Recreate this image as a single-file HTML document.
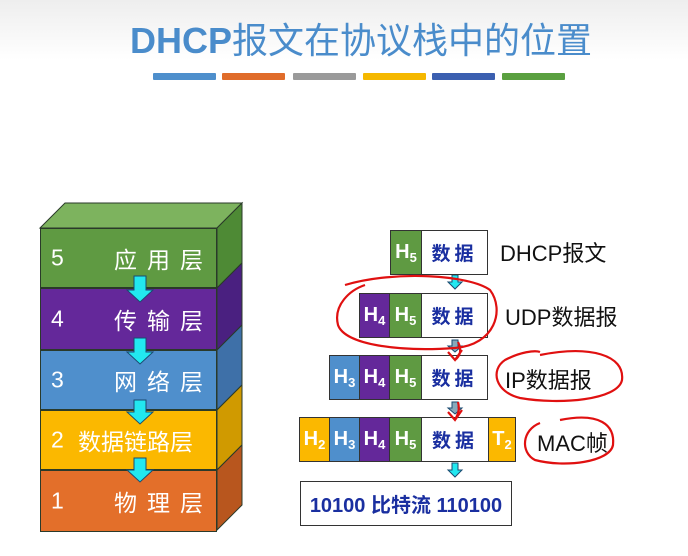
<!DOCTYPE html>
<html><head><meta charset="utf-8"><style>
body{margin:0;width:688px;height:556px;overflow:hidden;background:#fff;font-family:"Liberation Sans","Noto Sans CJK SC",sans-serif;position:relative}
.a{position:absolute}
.bar{position:absolute;top:73px;height:7px;width:63px;border-radius:1px}
.c{position:absolute;box-sizing:border-box;border:1px solid #333;color:#fff;font-size:20px;font-weight:bold;display:flex;align-items:center;justify-content:center;height:45px}
.c sub{font-size:13px;font-weight:bold;position:relative;top:5px}
.d{background:#fff;color:#1a2fa0;font-family:"Noto Sans CJK SC",sans-serif;font-size:19px;letter-spacing:4px}
.lbl{position:absolute;font-size:22px;color:#111;font-family:"Liberation Sans","Noto Sans CJK SC",sans-serif}
.L{position:absolute;left:40px;width:177px;box-sizing:border-box;border:1px solid #2a3a2a;color:#fff;font-size:23px;font-family:"Liberation Sans","Noto Sans CJK SC",sans-serif}
.L span{position:absolute;top:50%;transform:translateY(-50%)}
</style></head><body>
<div class="a" style="left:0;top:0;width:688px;height:60px;background:linear-gradient(#eee,#fff)"></div>
<div class="a" style="left:130px;top:14px;font-size:36px;color:#4a8ccb;white-space:nowrap;line-height:48px"><b>DHCP</b><span style="font-family:'Noto Sans CJK SC',sans-serif">报文在协议栈中的位置</span></div>
<div class="bar" style="left:153px;background:#4e8fcc"></div>
<div class="bar" style="left:222px;background:#e06c2a"></div>
<div class="bar" style="left:293px;background:#9a9a9a"></div>
<div class="bar" style="left:363px;background:#f5b800"></div>
<div class="bar" style="left:432px;background:#3b5fb0"></div>
<div class="bar" style="left:502px;background:#5aa040"></div>

<svg class="a" style="left:0;top:0" width="688" height="556">
<polygon points="40,228 65,203 242,203 217,228" fill="#7db35e" stroke="#2a3a2a"/>
<polygon points="217,228 242,203 242,263 217,288" fill="#4e8a35" stroke="#2a3a2a"/>
<polygon points="217,288 242,263 242,325 217,350" fill="#4a2080" stroke="#2a3a2a"/>
<polygon points="217,350 242,325 242,385 217,410" fill="#3e70a8" stroke="#2a3a2a"/>
<polygon points="217,410 242,385 242,445 217,470" fill="#d09a00" stroke="#2a3a2a"/>
<polygon points="217,470 242,445 242,505 217,530" fill="#b8561e" stroke="#2a3a2a"/>
</svg>
<div class="L" style="top:228px;height:60px;background:#5f9a42"><span style="left:10px">5</span><span style="left:73px;letter-spacing:10px">应用层</span></div>
<div class="L" style="top:288px;height:62px;background:#64289a"><span style="left:10px">4</span><span style="left:73px;letter-spacing:10px">传输层</span></div>
<div class="L" style="top:350px;height:60px;background:#4f8fcc"><span style="left:10px">3</span><span style="left:73px;letter-spacing:10px">网络层</span></div>
<div class="L" style="top:410px;height:60px;background:#fbb800"><span style="left:10px">2</span><span style="left:37px">数据链路层</span></div>
<div class="L" style="top:470px;height:62px;background:#e36f2a"><span style="left:10px">1</span><span style="left:73px;letter-spacing:10px">物理层</span></div>
<svg class="a" style="left:0;top:0" width="688" height="556">
<g fill="#22e8f0" stroke="#1a4a70" stroke-width="1">
<polygon points="134,276 146,276 146,290 153,290 140,302 127,290 134,290"/>
<polygon points="134,338 146,338 146,352 153,352 140,364 127,352 134,352"/>
<polygon points="134,400 146,400 146,412 153,412 140,424 127,412 134,412"/>
<polygon points="134,458 146,458 146,470 153,470 140,482 127,470 134,470"/>
<polygon points="452,275 458,275 458,282 462,282 455,289 448,282 452,282"/>
<polygon points="452,340 458,340 458,346 462,346 455,352 448,346 452,346" fill="#8ab"/>
<polygon points="452,402 458,402 458,408 462,408 455,414 448,408 452,408" fill="#8ab"/>
<polygon points="452,463 458,463 458,470 462,470 455,477 448,470 452,470"/>
</g>
</svg>

<div class="c" style="left:390px;top:230px;width:32px;background:#5f9a42">H<sub>5</sub></div>
<div class="c d" style="left:421px;top:230px;width:67px">数据</div>
<div class="c" style="left:359px;top:293px;width:31px;background:#64289a">H<sub>4</sub></div>
<div class="c" style="left:389px;top:293px;width:33px;background:#5f9a42">H<sub>5</sub></div>
<div class="c d" style="left:421px;top:293px;width:67px">数据</div>
<div class="c" style="left:329px;top:355px;width:31px;background:#4f8fcc">H<sub>3</sub></div>
<div class="c" style="left:359px;top:355px;width:31px;background:#64289a">H<sub>4</sub></div>
<div class="c" style="left:389px;top:355px;width:33px;background:#5f9a42">H<sub>5</sub></div>
<div class="c d" style="left:421px;top:355px;width:67px">数据</div>
<div class="c" style="left:299px;top:417px;width:31px;background:#fbb800">H<sub>2</sub></div>
<div class="c" style="left:329px;top:417px;width:31px;background:#4f8fcc">H<sub>3</sub></div>
<div class="c" style="left:359px;top:417px;width:31px;background:#64289a">H<sub>4</sub></div>
<div class="c" style="left:389px;top:417px;width:33px;background:#5f9a42">H<sub>5</sub></div>
<div class="c d" style="left:421px;top:417px;width:68px">数据</div>
<div class="c" style="left:488px;top:417px;width:28px;background:#fbb800">T<sub>2</sub></div>
<div class="c" style="left:300px;top:481px;width:212px;background:#fff;color:#1a2fa0;font-size:20px;font-family:'Liberation Sans','Noto Sans CJK SC',sans-serif;white-space:nowrap">10100 比特流 110100</div>

<div class="lbl" style="left:500px;top:236px">DHCP报文</div>
<div class="lbl" style="left:505px;top:300px">UDP数据报</div>
<div class="lbl" style="left:505px;top:363px">IP数据报</div>
<div class="lbl" style="left:537px;top:426px">MAC帧</div>

<svg class="a" style="left:0;top:0" width="688" height="556">
<g fill="none" stroke="#e01010" stroke-width="2.2">
<path d="M345,285 C395,270 470,275 490,290 C505,310 495,345 455,348 C400,352 345,345 338,325 C333,305 350,290 365,285"/>
<path d="M458,342 C462,350 460,356 455,360 M448,352 L455,360 L462,350"/>
<path d="M458,402 C460,410 458,414 455,420 M448,412 L455,420 L462,410"/>
<path d="M540,355 C590,345 625,355 622,380 C618,400 560,405 520,398 C495,392 490,370 505,360 C520,352 535,350 540,352"/>
<path d="M560,420 C600,412 615,425 613,445 C610,462 565,468 535,460 C520,452 522,430 540,423"/>
</g>
</svg>
</body></html>
